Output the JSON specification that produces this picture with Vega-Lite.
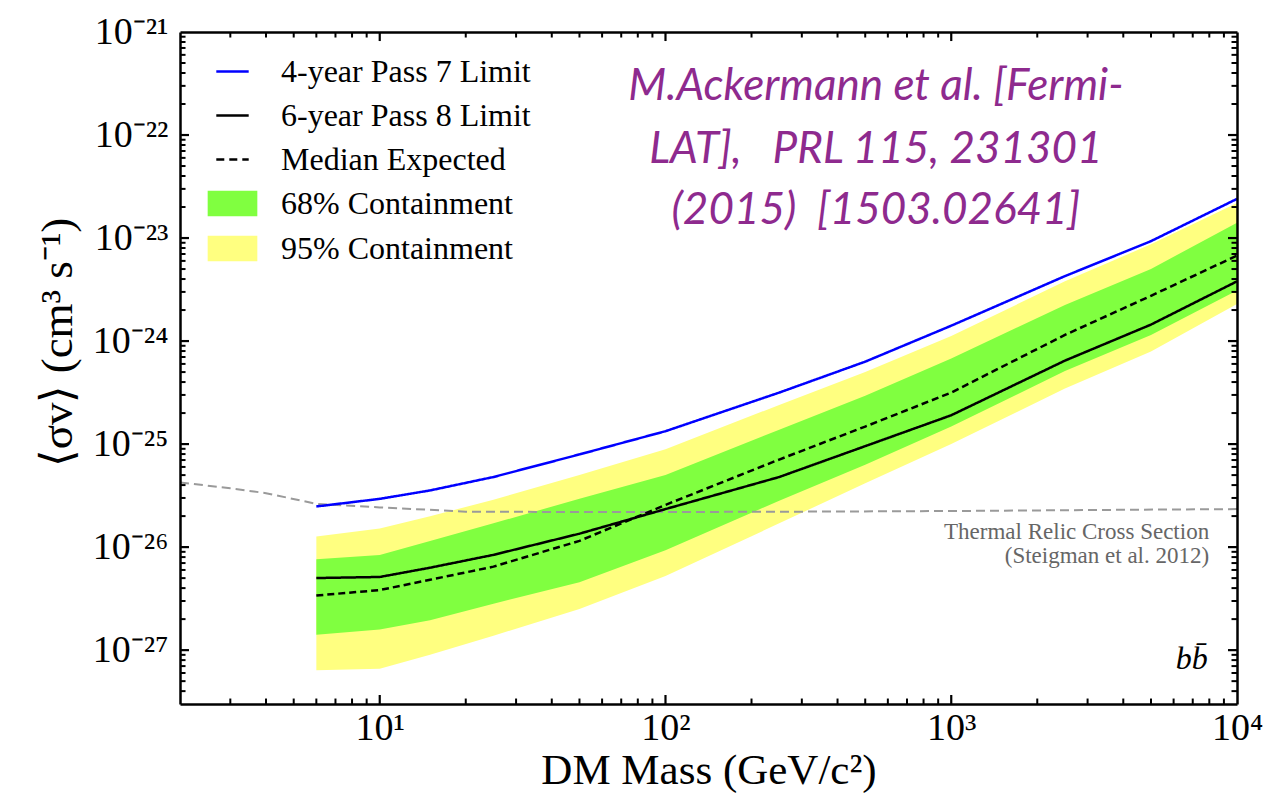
{
  "$schema": "https://vega.github.io/schema/vega-lite/v6.json",
  "width": 1057,
  "height": 672,
  "autosize": {"type": "none"},
  "padding": {"left": 180, "top": 32, "right": 38, "bottom": 100},
  "background": "white",
  "config": {
    "view": {"stroke": null},
    "axis": {"grid": false}
  },
  "datasets": {
    "bands": [
      {"m": 6, "band": "95% Containment", "lo": 6.37e-28, "hi": 1.265e-26},
      {"m": 10, "band": "95% Containment", "lo": 6.61e-28, "hi": 1.514e-26},
      {"m": 15, "band": "95% Containment", "lo": 9.0e-28, "hi": 1.995e-26},
      {"m": 25, "band": "95% Containment", "lo": 1.38e-27, "hi": 2.88e-26},
      {"m": 50, "band": "95% Containment", "lo": 2.51e-27, "hi": 5.01e-26},
      {"m": 100, "band": "95% Containment", "lo": 5.25e-27, "hi": 8.91e-26},
      {"m": 250, "band": "95% Containment", "lo": 1.70e-26, "hi": 2.40e-25},
      {"m": 500, "band": "95% Containment", "lo": 4.17e-26, "hi": 5.01e-25},
      {"m": 1000, "band": "95% Containment", "lo": 1.0e-25, "hi": 1.12e-24},
      {"m": 2500, "band": "95% Containment", "lo": 3.47e-25, "hi": 3.8e-24},
      {"m": 5000, "band": "95% Containment", "lo": 7.94e-25, "hi": 8.7e-24},
      {"m": 10000, "band": "95% Containment", "lo": 2.29e-24, "hi": 2.19e-23},
      {"m": 6, "band": "68% Containment", "lo": 1.413e-27, "hi": 7.64e-27},
      {"m": 10, "band": "68% Containment", "lo": 1.585e-27, "hi": 8.40e-27},
      {"m": 15, "band": "68% Containment", "lo": 1.95e-27, "hi": 1.146e-26},
      {"m": 25, "band": "68% Containment", "lo": 2.82e-27, "hi": 1.70e-26},
      {"m": 50, "band": "68% Containment", "lo": 4.57e-27, "hi": 2.95e-26},
      {"m": 100, "band": "68% Containment", "lo": 9.33e-27, "hi": 5.01e-26},
      {"m": 250, "band": "68% Containment", "lo": 2.82e-26, "hi": 1.38e-25},
      {"m": 500, "band": "68% Containment", "lo": 6.31e-26, "hi": 2.95e-25},
      {"m": 1000, "band": "68% Containment", "lo": 1.48e-25, "hi": 6.76e-25},
      {"m": 2500, "band": "68% Containment", "lo": 5.13e-25, "hi": 2.24e-24},
      {"m": 5000, "band": "68% Containment", "lo": 1.148e-24, "hi": 5.01e-24},
      {"m": 10000, "band": "68% Containment", "lo": 3.09e-24, "hi": 1.41e-23}
    ],
    "lines": [
      {"m": 6, "series": "4-year Pass 7 Limit", "v": 2.48e-26},
      {"m": 10, "series": "4-year Pass 7 Limit", "v": 2.94e-26},
      {"m": 15, "series": "4-year Pass 7 Limit", "v": 3.55e-26},
      {"m": 25, "series": "4-year Pass 7 Limit", "v": 4.79e-26},
      {"m": 50, "series": "4-year Pass 7 Limit", "v": 7.94e-26},
      {"m": 100, "series": "4-year Pass 7 Limit", "v": 1.334e-25},
      {"m": 250, "series": "4-year Pass 7 Limit", "v": 3.16e-25},
      {"m": 500, "series": "4-year Pass 7 Limit", "v": 6.31e-25},
      {"m": 1000, "series": "4-year Pass 7 Limit", "v": 1.41e-24},
      {"m": 2500, "series": "4-year Pass 7 Limit", "v": 4.27e-24},
      {"m": 5000, "series": "4-year Pass 7 Limit", "v": 9.33e-24},
      {"m": 10000, "series": "4-year Pass 7 Limit", "v": 2.40e-23},
      {"m": 6, "series": "6-year Pass 8 Limit", "v": 5.01e-27},
      {"m": 10, "series": "6-year Pass 8 Limit", "v": 5.13e-27},
      {"m": 15, "series": "6-year Pass 8 Limit", "v": 6.31e-27},
      {"m": 25, "series": "6-year Pass 8 Limit", "v": 8.41e-27},
      {"m": 50, "series": "6-year Pass 8 Limit", "v": 1.35e-26},
      {"m": 100, "series": "6-year Pass 8 Limit", "v": 2.34e-26},
      {"m": 250, "series": "6-year Pass 8 Limit", "v": 4.79e-26},
      {"m": 500, "series": "6-year Pass 8 Limit", "v": 9.55e-26},
      {"m": 1000, "series": "6-year Pass 8 Limit", "v": 1.905e-25},
      {"m": 2500, "series": "6-year Pass 8 Limit", "v": 6.46e-25},
      {"m": 5000, "series": "6-year Pass 8 Limit", "v": 1.445e-24},
      {"m": 10000, "series": "6-year Pass 8 Limit", "v": 3.80e-24},
      {"m": 6, "series": "Median Expected", "v": 3.39e-27},
      {"m": 10, "series": "Median Expected", "v": 3.83e-27},
      {"m": 15, "series": "Median Expected", "v": 4.82e-27},
      {"m": 25, "series": "Median Expected", "v": 6.46e-27},
      {"m": 50, "series": "Median Expected", "v": 1.15e-26},
      {"m": 100, "series": "Median Expected", "v": 2.57e-26},
      {"m": 250, "series": "Median Expected", "v": 7.08e-26},
      {"m": 500, "series": "Median Expected", "v": 1.48e-25},
      {"m": 1000, "series": "Median Expected", "v": 3.16e-25},
      {"m": 2500, "series": "Median Expected", "v": 1.148e-24},
      {"m": 5000, "series": "Median Expected", "v": 2.75e-24},
      {"m": 10000, "series": "Median Expected", "v": 6.76e-24}
    ],
    "thermal": [
      {"m": 2, "v": 4.25e-26},
      {"m": 3, "v": 3.72e-26},
      {"m": 4, "v": 3.34e-26},
      {"m": 6, "v": 2.63e-26},
      {"m": 10, "v": 2.43e-26},
      {"m": 20, "v": 2.21e-26},
      {"m": 50, "v": 2.19e-26},
      {"m": 100, "v": 2.19e-26},
      {"m": 300, "v": 2.21e-26},
      {"m": 1000, "v": 2.24e-26},
      {"m": 3000, "v": 2.29e-26},
      {"m": 10000, "v": 2.34e-26}
    ],
    "citation": [
      {"m": 545, "v": 2.91e-22, "t": "M.Ackermann et al. [Fermi-"},
      {"m": 545, "v": 7.1e-23, "t": "LAT],\u00a0\u00a0 PRL 115, 231301"},
      {"m": 545, "v": 1.85e-23, "t": "(2015)\u00a0 [1503.02641]"}
    ],
    "relic": [
      {"m": 7990, "v": 1.416e-26, "t": "Thermal Relic Cross Section"},
      {"m": 7990, "v": 8.26e-27, "t": "(Steigman et al. 2012)"}
    ],
    "channel": [
      {"m": 7900, "v": 8.2e-28, "t": "bb̄"}
    ],
    "xMajor": [{"t": 10}, {"t": 100}, {"t": 1000}],
    "xMinor": [{"t": 3}, {"t": 4}, {"t": 5}, {"t": 6}, {"t": 7}, {"t": 8}, {"t": 9},
               {"t": 20}, {"t": 30}, {"t": 40}, {"t": 50}, {"t": 60}, {"t": 70}, {"t": 80}, {"t": 90},
               {"t": 200}, {"t": 300}, {"t": 400}, {"t": 500}, {"t": 600}, {"t": 700}, {"t": 800}, {"t": 900},
               {"t": 2000}, {"t": 3000}, {"t": 4000}, {"t": 5000}, {"t": 6000}, {"t": 7000}, {"t": 8000}, {"t": 9000}],
    "yMajor": [{"t": 1e-27}, {"t": 1e-26}, {"t": 1e-25}, {"t": 1e-24}, {"t": 1e-23}, {"t": 1e-22}],
    "yMinor": [{"t": 4e-28}, {"t": 5e-28}, {"t": 6e-28}, {"t": 7e-28}, {"t": 8e-28}, {"t": 9e-28},
               {"t": 2e-27}, {"t": 3e-27}, {"t": 4e-27}, {"t": 5e-27}, {"t": 6e-27}, {"t": 7e-27}, {"t": 8e-27}, {"t": 9e-27},
               {"t": 2e-26}, {"t": 3e-26}, {"t": 4e-26}, {"t": 5e-26}, {"t": 6e-26}, {"t": 7e-26}, {"t": 8e-26}, {"t": 9e-26},
               {"t": 2e-25}, {"t": 3e-25}, {"t": 4e-25}, {"t": 5e-25}, {"t": 6e-25}, {"t": 7e-25}, {"t": 8e-25}, {"t": 9e-25},
               {"t": 2e-24}, {"t": 3e-24}, {"t": 4e-24}, {"t": 5e-24}, {"t": 6e-24}, {"t": 7e-24}, {"t": 8e-24}, {"t": 9e-24},
               {"t": 2e-23}, {"t": 3e-23}, {"t": 4e-23}, {"t": 5e-23}, {"t": 6e-23}, {"t": 7e-23}, {"t": 8e-23}, {"t": 9e-23},
               {"t": 2e-22}, {"t": 3e-22}, {"t": 4e-22}, {"t": 5e-22}, {"t": 6e-22}, {"t": 7e-22}, {"t": 8e-22}, {"t": 9e-22}]
  },
  "layer": [
    {
      "data": {"name": "bands"},
      "transform": [{"filter": "datum.band == '95% Containment'"}],
      "mark": {"type": "area", "opacity": 1, "clip": true},
      "encoding": {
        "x": {"field": "m", "type": "quantitative",
          "scale": {"type": "log", "domain": [2, 10000], "nice": false},
          "axis": {"orient": "bottom", "values": [10, 100, 1000, 10000],
            "labelExpr": "datum.value == 10 ? '10¹' : datum.value == 100 ? '10²' : datum.value == 1000 ? '10³' : '10⁴'",
            "ticks": false, "grid": false,
            "domain": true, "domainColor": "#000", "domainWidth": 2.5,
            "labelFont": "Liberation Serif", "labelFontSize": 38, "labelColor": "#000",
            "labelPadding": 5, "labelFlush": false, "labelOverlap": false,
            "title": "DM Mass (GeV/c²)", "titleFont": "Liberation Serif", "titleFontSize": 43,
            "titleFontWeight": "normal", "titleColor": "#000", "titlePadding": 2, "zindex": 1}},
        "y": {"field": "hi", "type": "quantitative",
          "scale": {"type": "log", "domain": [3e-28, 1e-21], "nice": false},
          "axis": {"orient": "left", "values": [1e-27, 1e-26, 1e-25, 1e-24, 1e-23, 1e-22, 1e-21],
            "labelExpr": "datum.value == 1e-21 ? '10⁻²¹' : datum.value == 1e-22 ? '10⁻²²' : datum.value == 1e-23 ? '10⁻²³' : datum.value == 1e-24 ? '10⁻²⁴' : datum.value == 1e-25 ? '10⁻²⁵' : datum.value == 1e-26 ? '10⁻²⁶' : '10⁻²⁷'",
            "ticks": false, "grid": false,
            "domain": true, "domainColor": "#000", "domainWidth": 2.5,
            "labelFont": "Liberation Serif", "labelFontSize": 38, "labelColor": "#000",
            "labelPadding": 12, "labelFlush": false, "labelOverlap": false,
            "title": "⟨σv⟩ (cm³ s⁻¹)", "titleFont": "Liberation Serif", "titleFontSize": 45,
            "titleFontWeight": "normal", "titleColor": "#000", "titlePadding": 12, "titleY": 310, "zindex": 1}},
        "y2": {"field": "lo"},
        "color": {"field": "band", "type": "nominal",
          "scale": {"domain": ["4-year Pass 7 Limit", "6-year Pass 8 Limit", "Median Expected", "68% Containment", "95% Containment"],
                    "range": ["#0000ff", "#000000", "#000000", "#80ff40", "#ffff80"]},
          "legend": {"title": null, "orient": "none", "legendX": 33, "legendY": 20, "direction": "vertical",
            "symbolSize": 1296, "rowPadding": 8, "labelOffset": 29, "padding": 0,
            "labelFont": "Liberation Serif", "labelFontSize": 32, "labelColor": "#000", "labelLimit": 600,
            "encode": {"symbols": {"update": {
              "shape": {"signal": "(datum.value == '68% Containment' || datum.value == '95% Containment') ? 'M-1.31,-0.64H1.31V0.64H-1.31Z' : 'M-0.9,0H0.9'"},
              "fill": {"signal": "datum.value == '68% Containment' ? '#80ff40' : datum.value == '95% Containment' ? '#ffff80' : 'transparent'"},
              "stroke": {"signal": "datum.value == '4-year Pass 7 Limit' ? '#0000ff' : (datum.value == '6-year Pass 8 Limit' || datum.value == 'Median Expected') ? '#000000' : 'transparent'"},
              "strokeDash": {"signal": "datum.value == 'Median Expected' ? [8, 5] : [1, 0]"},
              "strokeWidth": {"value": 2.5},
              "opacity": {"value": 1},
              "fillOpacity": {"value": 1},
              "strokeOpacity": {"value": 1},
              "size": {"value": 1296}
            }}}}
        }
      }
    },
    {
      "data": {"name": "bands"},
      "transform": [{"filter": "datum.band == '68% Containment'"}],
      "mark": {"type": "area", "opacity": 1, "clip": true},
      "encoding": {
        "x": {"field": "m", "type": "quantitative", "scale": {"type": "log", "domain": [2, 10000], "nice": false}, "axis": null},
        "y": {"field": "hi", "type": "quantitative", "scale": {"type": "log", "domain": [3e-28, 1e-21], "nice": false}, "axis": null},
        "y2": {"field": "lo"},
        "color": {"field": "band", "type": "nominal",
          "scale": {"domain": ["4-year Pass 7 Limit", "6-year Pass 8 Limit", "Median Expected", "68% Containment", "95% Containment"],
                    "range": ["#0000ff", "#000000", "#000000", "#80ff40", "#ffff80"]},
          "legend": {"title": null, "orient": "none", "legendX": 33, "legendY": 20, "direction": "vertical",
            "symbolSize": 1296, "rowPadding": 8, "labelOffset": 29, "padding": 0,
            "labelFont": "Liberation Serif", "labelFontSize": 32, "labelColor": "#000", "labelLimit": 600,
            "encode": {"symbols": {"update": {
              "shape": {"signal": "(datum.value == '68% Containment' || datum.value == '95% Containment') ? 'M-1.31,-0.64H1.31V0.64H-1.31Z' : 'M-0.9,0H0.9'"},
              "fill": {"signal": "datum.value == '68% Containment' ? '#80ff40' : datum.value == '95% Containment' ? '#ffff80' : 'transparent'"},
              "stroke": {"signal": "datum.value == '4-year Pass 7 Limit' ? '#0000ff' : (datum.value == '6-year Pass 8 Limit' || datum.value == 'Median Expected') ? '#000000' : 'transparent'"},
              "strokeDash": {"signal": "datum.value == 'Median Expected' ? [8, 5] : [1, 0]"},
              "strokeWidth": {"value": 2.5},
              "opacity": {"value": 1},
              "fillOpacity": {"value": 1},
              "strokeOpacity": {"value": 1},
              "size": {"value": 1296}
            }}}}
        }
      }
    },
    {
      "data": {"name": "thermal"},
      "mark": {"type": "line", "color": "#9a9a9a", "strokeWidth": 2, "strokeDash": [9, 5], "clip": true},
      "encoding": {
        "x": {"field": "m", "type": "quantitative", "scale": {"type": "log", "domain": [2, 10000], "nice": false}, "axis": null},
        "y": {"field": "v", "type": "quantitative", "scale": {"type": "log", "domain": [3e-28, 1e-21], "nice": false}, "axis": null}
      }
    },
    {
      "data": {"name": "lines"},
      "mark": {"type": "line", "strokeWidth": 2.5, "clip": true},
      "encoding": {
        "x": {"field": "m", "type": "quantitative", "scale": {"type": "log", "domain": [2, 10000], "nice": false}, "axis": null},
        "y": {"field": "v", "type": "quantitative", "scale": {"type": "log", "domain": [3e-28, 1e-21], "nice": false}, "axis": null},
        "color": {"field": "series", "type": "nominal",
          "scale": {"domain": ["4-year Pass 7 Limit", "6-year Pass 8 Limit", "Median Expected", "68% Containment", "95% Containment"],
                    "range": ["#0000ff", "#000000", "#000000", "#80ff40", "#ffff80"]},
          "legend": {"title": null, "orient": "none", "legendX": 33, "legendY": 20, "direction": "vertical",
            "symbolSize": 1296, "rowPadding": 8, "labelOffset": 29, "padding": 0,
            "labelFont": "Liberation Serif", "labelFontSize": 32, "labelColor": "#000", "labelLimit": 600,
            "encode": {"symbols": {"update": {
              "shape": {"signal": "(datum.value == '68% Containment' || datum.value == '95% Containment') ? 'M-1.31,-0.64H1.31V0.64H-1.31Z' : 'M-0.9,0H0.9'"},
              "fill": {"signal": "datum.value == '68% Containment' ? '#80ff40' : datum.value == '95% Containment' ? '#ffff80' : 'transparent'"},
              "stroke": {"signal": "datum.value == '4-year Pass 7 Limit' ? '#0000ff' : (datum.value == '6-year Pass 8 Limit' || datum.value == 'Median Expected') ? '#000000' : 'transparent'"},
              "strokeDash": {"signal": "datum.value == 'Median Expected' ? [8, 5] : [1, 0]"},
              "strokeWidth": {"value": 2.5},
              "opacity": {"value": 1},
              "fillOpacity": {"value": 1},
              "strokeOpacity": {"value": 1},
              "size": {"value": 1296}
            }}}}
        },
        "strokeDash": {"field": "series", "type": "nominal",
          "scale": {"domain": ["4-year Pass 7 Limit", "6-year Pass 8 Limit", "Median Expected"], "range": [[1, 0], [1, 0], [7, 4]]},
          "legend": null}
      }
    },
    {
      "data": {"name": "xMajor"},
      "mark": {"type": "rule", "color": "#000000", "strokeWidth": 2.2},
      "encoding": {
        "x": {"field": "t", "type": "quantitative", "scale": {"type": "log", "domain": [2, 10000], "nice": false}, "axis": null},
        "y": {"datum": 3e-28, "type": "quantitative", "scale": {"type": "log", "domain": [3e-28, 1e-21], "nice": false}, "axis": null},
        "y2": {"datum": 3.67e-28}
      }
    },
    {
      "data": {"name": "xMajor"},
      "mark": {"type": "rule", "color": "#000000", "strokeWidth": 2.2},
      "encoding": {
        "x": {"field": "t", "type": "quantitative", "scale": {"type": "log", "domain": [2, 10000], "nice": false}, "axis": null},
        "y": {"datum": 1e-21, "type": "quantitative", "scale": {"type": "log", "domain": [3e-28, 1e-21], "nice": false}, "axis": null},
        "y2": {"datum": 8.17e-22}
      }
    },
    {
      "data": {"name": "xMinor"},
      "mark": {"type": "rule", "color": "#000000", "strokeWidth": 2},
      "encoding": {
        "x": {"field": "t", "type": "quantitative", "scale": {"type": "log", "domain": [2, 10000], "nice": false}, "axis": null},
        "y": {"datum": 3e-28, "type": "quantitative", "scale": {"type": "log", "domain": [3e-28, 1e-21], "nice": false}, "axis": null},
        "y2": {"datum": 3.39e-28}
      }
    },
    {
      "data": {"name": "xMinor"},
      "mark": {"type": "rule", "color": "#000000", "strokeWidth": 2},
      "encoding": {
        "x": {"field": "t", "type": "quantitative", "scale": {"type": "log", "domain": [2, 10000], "nice": false}, "axis": null},
        "y": {"datum": 1e-21, "type": "quantitative", "scale": {"type": "log", "domain": [3e-28, 1e-21], "nice": false}, "axis": null},
        "y2": {"datum": 8.84e-22}
      }
    },
    {
      "data": {"name": "yMajor"},
      "mark": {"type": "rule", "color": "#000000", "strokeWidth": 2.2},
      "encoding": {
        "y": {"field": "t", "type": "quantitative", "scale": {"type": "log", "domain": [3e-28, 1e-21], "nice": false}, "axis": null},
        "x": {"datum": 2, "type": "quantitative", "scale": {"type": "log", "domain": [2, 10000], "nice": false}, "axis": null},
        "x2": {"datum": 2.15}
      }
    },
    {
      "data": {"name": "yMajor"},
      "mark": {"type": "rule", "color": "#000000", "strokeWidth": 2.2},
      "encoding": {
        "y": {"field": "t", "type": "quantitative", "scale": {"type": "log", "domain": [3e-28, 1e-21], "nice": false}, "axis": null},
        "x": {"datum": 10000, "type": "quantitative", "scale": {"type": "log", "domain": [2, 10000], "nice": false}, "axis": null},
        "x2": {"datum": 9301}
      }
    },
    {
      "data": {"name": "yMinor"},
      "mark": {"type": "rule", "color": "#000000", "strokeWidth": 2},
      "encoding": {
        "y": {"field": "t", "type": "quantitative", "scale": {"type": "log", "domain": [3e-28, 1e-21], "nice": false}, "axis": null},
        "x": {"datum": 2, "type": "quantitative", "scale": {"type": "log", "domain": [2, 10000], "nice": false}, "axis": null},
        "x2": {"datum": 2.091}
      }
    },
    {
      "data": {"name": "yMinor"},
      "mark": {"type": "rule", "color": "#000000", "strokeWidth": 2},
      "encoding": {
        "y": {"field": "t", "type": "quantitative", "scale": {"type": "log", "domain": [3e-28, 1e-21], "nice": false}, "axis": null},
        "x": {"datum": 10000, "type": "quantitative", "scale": {"type": "log", "domain": [2, 10000], "nice": false}, "axis": null},
        "x2": {"datum": 9567}
      }
    },
    {
      "data": {"name": "citation"},
      "mark": {"type": "text", "font": "Lato", "fontStyle": "italic", "fontSize": 44, "color": "#8e2a8e", "align": "center", "baseline": "middle"},
      "encoding": {
        "x": {"field": "m", "type": "quantitative", "scale": {"type": "log", "domain": [2, 10000], "nice": false}, "axis": null},
        "y": {"field": "v", "type": "quantitative", "scale": {"type": "log", "domain": [3e-28, 1e-21], "nice": false}, "axis": null},
        "text": {"field": "t"}
      }
    },
    {
      "data": {"name": "relic"},
      "mark": {"type": "text", "font": "Liberation Serif", "fontSize": 23, "color": "#666666", "align": "right", "baseline": "middle"},
      "encoding": {
        "x": {"field": "m", "type": "quantitative", "scale": {"type": "log", "domain": [2, 10000], "nice": false},
          "axis": {"orient": "top", "values": [], "labels": false, "ticks": false, "grid": false, "domain": true, "domainColor": "#000", "domainWidth": 2.5, "title": null, "zindex": 1}},
        "y": {"field": "v", "type": "quantitative", "scale": {"type": "log", "domain": [3e-28, 1e-21], "nice": false},
          "axis": {"orient": "right", "values": [], "labels": false, "ticks": false, "grid": false, "domain": true, "domainColor": "#000", "domainWidth": 2.5, "title": null, "zindex": 1}},
        "text": {"field": "t"}
      }
    },
    {
      "data": {"name": "channel"},
      "mark": {"type": "text", "font": "Liberation Serif", "fontStyle": "italic", "fontSize": 32, "color": "#000000", "align": "right", "baseline": "middle"},
      "encoding": {
        "x": {"field": "m", "type": "quantitative", "scale": {"type": "log", "domain": [2, 10000], "nice": false}, "axis": null},
        "y": {"field": "v", "type": "quantitative", "scale": {"type": "log", "domain": [3e-28, 1e-21], "nice": false}, "axis": null},
        "text": {"field": "t"}
      }
    }
  ],
  "resolve": {"axis": {"x": "independent", "y": "independent"}}
}
